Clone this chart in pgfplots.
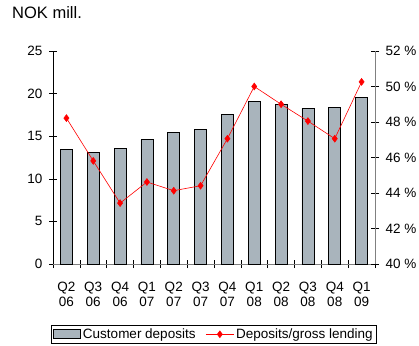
\documentclass[border=0pt]{standalone}
\usepackage{fontspec}
\setmainfont{Liberation Sans}
\usepackage{pgfplots}
\pgfplotsset{compat=1.18}
\definecolor{barfill}{HTML}{A9B4BC}
\definecolor{axgray}{HTML}{808080}
\pgfplotsset{
  barlegend/.style={legend image code/.code={\draw[##1] (0pt,-4.5pt) rectangle (27pt,4.5pt);}},
  linelegend/.style={legend image code/.code={\draw[mark repeat=2, mark phase=2, ##1] plot coordinates {(0pt,0pt) (14pt,0pt) (28pt,0pt)};}},
}
\begin{document}
\fontsize{13.5}{15}\selectfont
\begin{tikzpicture}[x=1pt,y=1pt,font=\fontsize{13.5}{15}\selectfont]
\path[use as bounding box] (0,0) rectangle (419,345);
\node[anchor=base west, inner sep=0pt, font=\fontsize{16.5}{18}\selectfont] at (12,326) {NOK mill.};
\begin{axis}[
  at={(53pt,81pt)}, anchor=south west, scale only axis,
  width=322pt, height=213pt,
  xmin=-0.5, xmax=11.5, ymin=0, ymax=25,
  axis x line*=bottom, axis y line*=left,
  x axis line style={draw=axgray, line width=0.8pt, -},
  y axis line style={draw=black, line width=0.8pt, -},
  ytick={0,5,...,25},
  tick align=center, major tick length=8pt, minor tick length=8pt,
  ytick style={draw=black, line width=0.6pt},
  xtick={0,...,11},
  xticklabels={{Q2\\06},{Q3\\06},{Q4\\06},{Q1\\07},{Q2\\07},{Q3\\07},{Q4\\07},{Q1\\08},{Q2\\08},{Q3\\08},{Q4\\08},{Q1\\09}},
  xticklabel style={align=center, font=\fontsize{13.5}{15.5}\selectfont, yshift=-9pt},
  major x tick style={draw=none},
  minor xtick={-0.5,0.5,...,11.5},
  minor x tick style={draw=black, line width=0.6pt},
  /pgf/number format/assume math mode=true,
  yticklabel style={xshift=-2pt},
]
\addplot[ybar, bar width=12pt, fill=barfill, draw=black, line width=0.7pt] coordinates {
(0,13.45) (1,13.1) (2,13.6) (3,14.6) (4,15.45) (5,15.8) (6,17.57) (7,19.1) (8,18.75) (9,18.27) (10,18.35) (11,19.56)};
\end{axis}
\begin{axis}[
  at={(53pt,81pt)}, anchor=south west, scale only axis,
  width=322pt, height=213pt,
  xmin=-0.5, xmax=11.5, ymin=40, ymax=52,
  axis x line=none, axis y line*=right,
  y axis line style={draw=axgray, line width=0.8pt, -},
  ytick={40,42,...,52},
  tick align=center, major tick length=8pt,
  ytick style={draw=black, line width=0.6pt},
  yticklabel={\pgfmathprintnumber{\tick} \%},
  yticklabel style={xshift=2pt},
  /pgf/number format/assume math mode=true,
  legend style={at={(0.5,-0.3756)}, anchor=south, legend columns=2, draw=black, line width=0.6pt,
    font=\fontsize{13.5}{15}\selectfont, inner sep=1.5pt,
    /tikz/every even column/.append style={column sep=8pt}},
]
\addlegendimage{fill=barfill, draw=black, line width=0.7pt, barlegend}
\addlegendentry{Customer deposits}
\addplot[red, line width=0.6pt, mark=diamond*, mark size=3.4pt, mark options={fill=red, draw=red}, linelegend] coordinates {
(0,48.22) (1,45.81) (2,43.43) (3,44.62) (4,44.13) (5,44.41) (6,47.06) (7,50.0) (8,49.0) (9,48.05) (10,47.06) (11,50.26)};
\addlegendentry{Deposits/gross lending}
\end{axis}
\end{tikzpicture}
\end{document}
